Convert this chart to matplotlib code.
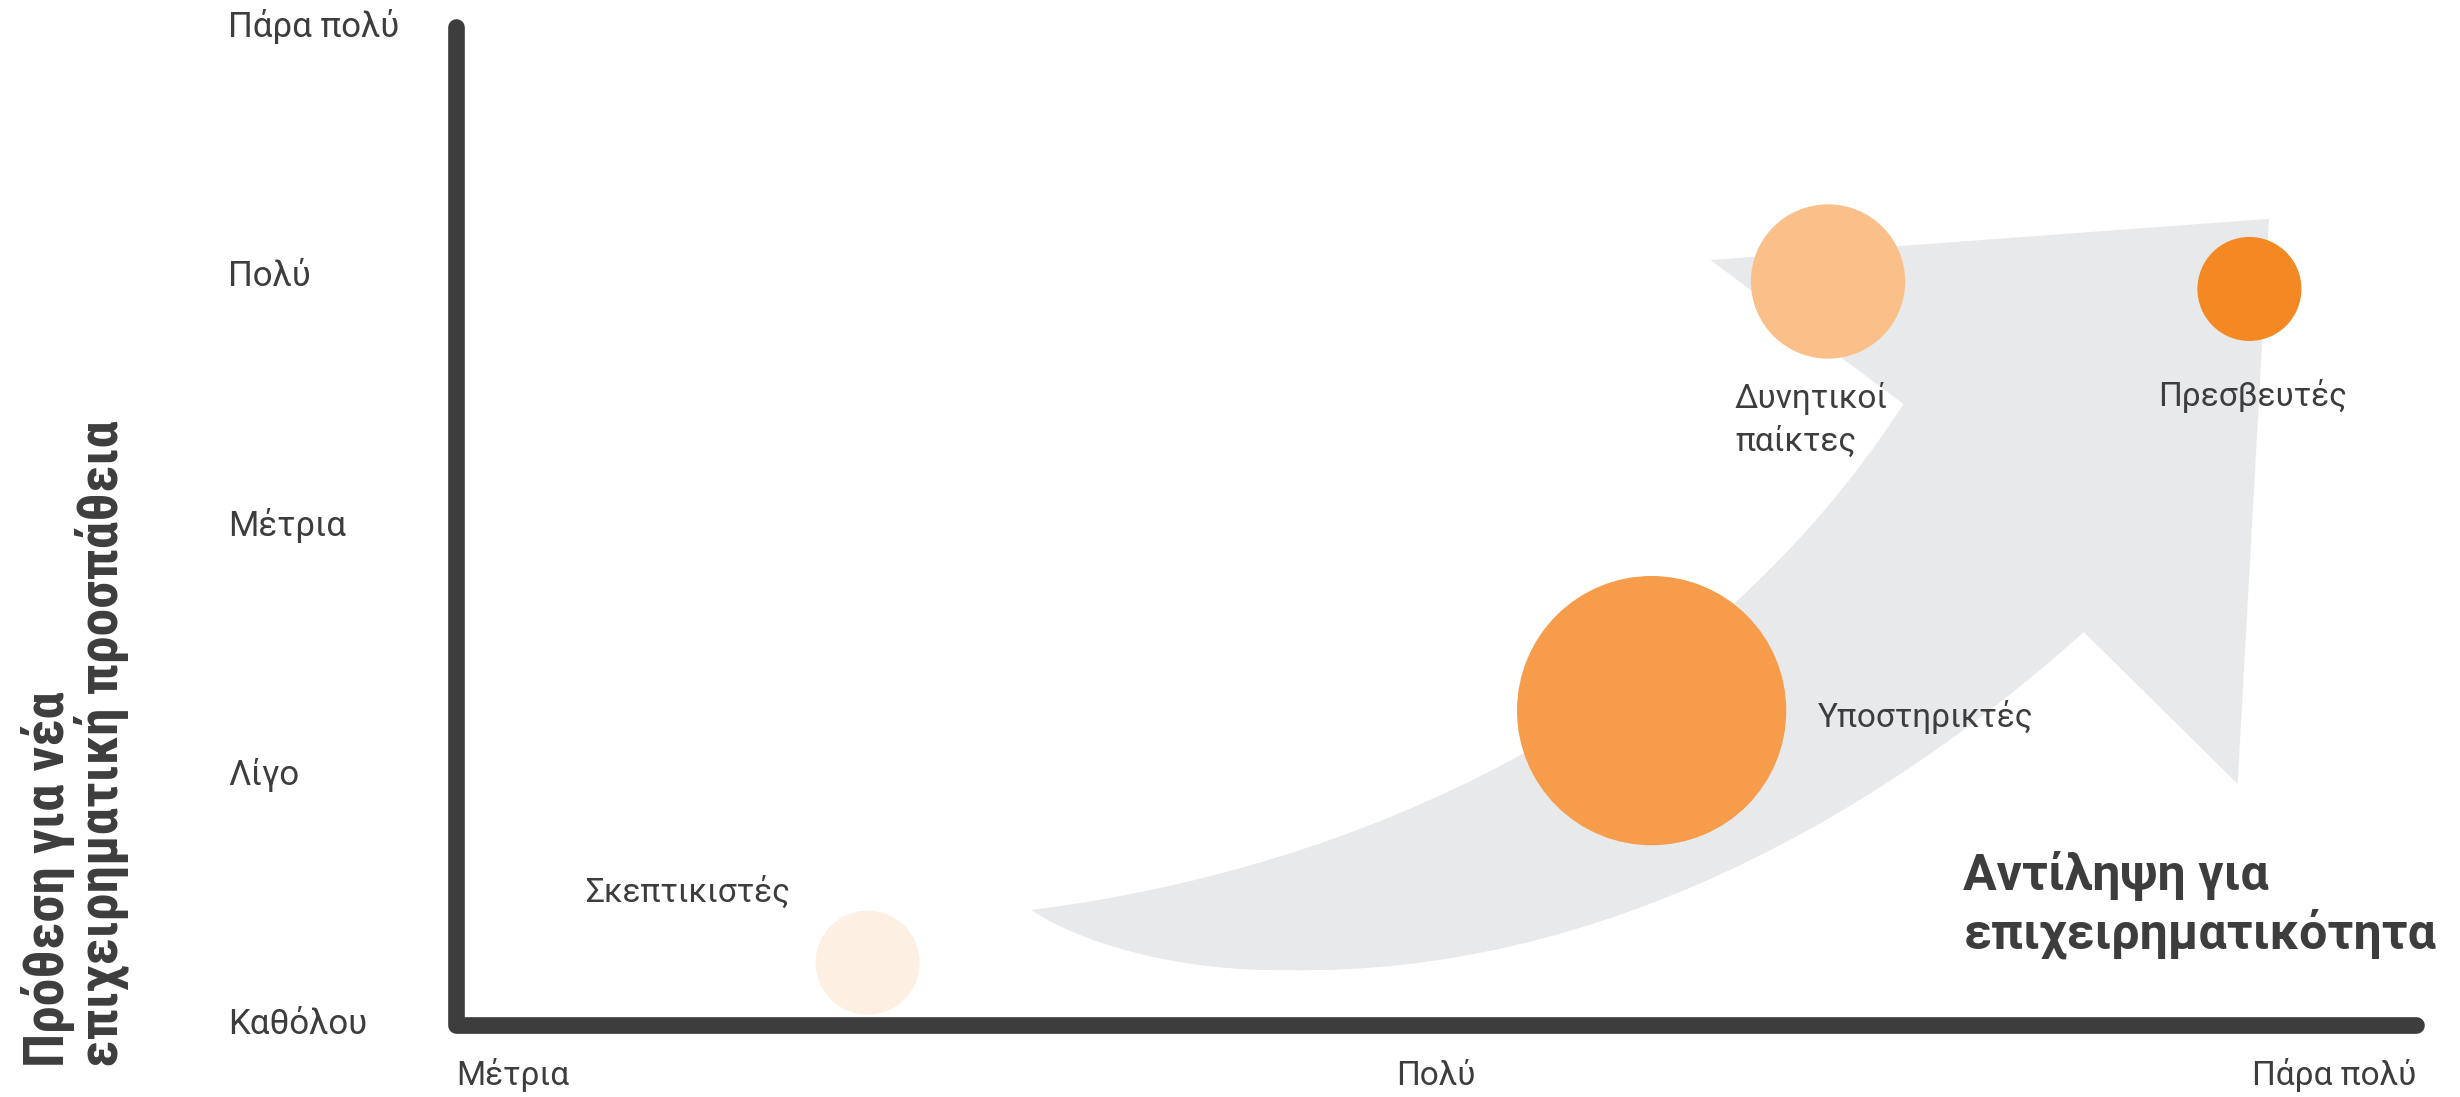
import matplotlib
matplotlib.use("Agg")
import matplotlib.pyplot as plt
from matplotlib.path import Path
from matplotlib.patches import PathPatch
from matplotlib.transforms import blended_transform_factory


# categories and values
segments = ["Σκεπτικιστές", "Υποστηρικτές", "Δυνητικοί\nπαίκτες", "Πρεσβευτές"]
perception = [0.42, 1.22, 1.40, 1.83]      # x: Αντίληψη για επιχειρηματικότητα
intention = [0.25, 1.26, 2.98, 2.95]       # y: Πρόθεση για νέα επιχειρηματική προσπάθεια
bubble_size = [10, 67, 22, 10]             # relative bubble area
bubble_colors = ["#FDEFE2", "#F69C4A", "#FBBF89", "#F48923"]

x_levels = ["Μέτρια", "Πολύ", "Πάρα πολύ"]
y_levels = ["Καθόλου", "Λίγο", "Μέτρια", "Πολύ", "Πάρα πολύ"]

TEXT = "#3d3d3d"
FONT = ["Roboto", "DejaVu Sans"]

fig = plt.figure(figsize=(24.6, 10.97), dpi=100)
ax = fig.add_axes([0.18537, 0.06564, 0.79675, 0.90976])
ax.set_xlim(0, 2)
ax.set_ylim(0, 4)
ax.axis("off")

# big grey curved arrow in the background
codes = [Path.MOVETO, Path.CURVE4, Path.CURVE4, Path.CURVE4,
         Path.LINETO, Path.LINETO, Path.LINETO, Path.LINETO,
         Path.CURVE4, Path.CURVE4, Path.CURVE4,
         Path.CURVE4, Path.CURVE4, Path.CURVE4, Path.CLOSEPOLY]
verts = [(0.587, 0.461), (0.912, 0.621), (1.269, 1.222), (1.477, 2.489),
         (1.280, 3.066), (1.850, 3.231), (1.818, 0.966), (1.661, 1.575),
         (1.453, 0.842), (1.167, 0.200), (0.851, 0.220),
         (0.729, 0.212), (0.632, 0.341), (0.587, 0.461), (0.587, 0.461)]
ax.add_patch(PathPatch(Path(verts, codes), facecolor="#E8E9EB",
                       edgecolor="none", zorder=1))

# bubbles
ax.scatter(perception, intention, s=[v * 561 for v in bubble_size],
           c=bubble_colors, linewidths=0, zorder=3, clip_on=False)

# L shaped axis
ax.plot([0, 0, 2], [4, 0, 0], color="#3d3d3d", lw=12,
        solid_capstyle="round", solid_joinstyle="round",
        clip_on=False, zorder=4)

# bubble labels (baseline = last line)
label_pos = [(0.133, 0.493), (1.390, 1.194), (1.305, 2.300), (1.737, 2.481)]
for name, (lx, ly) in zip(segments, label_pos):
    ax.text(lx, ly, name, fontsize=24, color=TEXT, family=FONT,
            ha="left", va="baseline", linespacing=1.45, zorder=5)

ax.text(1.538, 0.305, "Αντίληψη για\nεπιχειρηματικότητα", fontsize=36,
        fontweight="bold", color=TEXT, family=FONT, ha="left",
        va="baseline", linespacing=1.2, zorder=5)

# tick labels
ytr = blended_transform_factory(fig.transFigure, ax.transData)
for i, lab in enumerate(y_levels):
    ax.text(0.0927, i, lab, transform=ytr, fontsize=25, color=TEXT,
            family=FONT, ha="left", va="center")

xtr = blended_transform_factory(ax.transData, fig.transFigure)
x_align = ["left", "center", "right"]
for i, lab in enumerate(x_levels):
    ax.text(i, 0.011, lab, transform=xtr, fontsize=24, color=TEXT,
            family=FONT, ha=x_align[i], va="baseline")

# y axis title
fig.text(0.0305, 0.0273, "Πρόθεση για νέα\nεπιχειρηματική προσπάθεια",
         rotation=90, fontsize=40, fontweight="bold", fontstretch="condensed",
         family=["Roboto Condensed", "Roboto", "DejaVu Sans"], color=TEXT,
         ha="center", va="bottom", multialignment="left", linespacing=0.95)

fig.savefig("out.png", dpi=100)
